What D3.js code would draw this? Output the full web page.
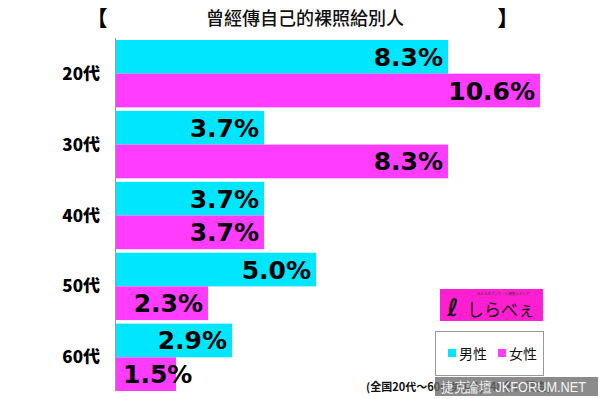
<!DOCTYPE html>
<html><head><meta charset="utf-8">
<script src="https://cdn.jsdelivr.net/npm/d3@7"></script>
<style>body{margin:0;background:#fff;}svg{display:block;}</style>
</head><body>
<svg id="c" width="600" height="399"></svg>
<script>
const title = "曾經傳自己的裸照給別人";
const categories = ["20代","30代","40代","50代","60代"];
const series = ["男性","女性"];
const maleValues = [8.3, 3.7, 3.7, 5.0, 2.9];
const femaleValues = [10.6, 8.3, 3.7, 2.3, 1.5];
const footnote = "(全国20代～60代男女1,348名に調査)";
const colors = ["#00e6ff", "#ff3cff"];

const svg = d3.select("#c");
const left = 116;
const x = d3.scaleLinear().domain([0, 10.6]).range([left, 540]);
const y = d3.scaleBand().domain(categories).range([40, 391]).paddingInner(0.05).paddingOuter(0);
const ys = d3.scaleBand().domain(series).range([0, y.bandwidth()]).padding(0);
const color = d3.scaleOrdinal().domain(series).range(colors);

// title
svg.append("text").attr("x", 97).attr("y", 26).attr("text-anchor","middle")
  .attr("font-family","Noto Sans CJK TC").attr("font-weight","900").attr("font-size",21).text("【");
svg.append("text").attr("x", 508).attr("y", 26).attr("text-anchor","middle")
  .attr("font-family","Noto Sans CJK TC").attr("font-weight","900").attr("font-size",21).text("】");
svg.append("text").attr("x", 305).attr("y", 25).attr("text-anchor","middle")
  .attr("font-family","Noto Sans CJK TC").attr("font-weight","500").attr("font-size",18).attr("fill","#111").text(title);

const data = [];
categories.forEach((c,i)=>{
  data.push({cat:c, s:series[0], v:maleValues[i]});
  data.push({cat:c, s:series[1], v:femaleValues[i]});
});

const g = svg.append("g");
g.selectAll("rect.bar").data(data).join("rect").attr("class","bar")
  .attr("x", left).attr("y", d=>y(d.cat)+ys(d.s))
  .attr("width", d=>x(d.v)-left).attr("height", ys.bandwidth())
  .attr("fill", d=>color(d.s));

// axis line
svg.append("line").attr("x1",115.5).attr("x2",115.5).attr("y1",38).attr("y2",391)
  .attr("stroke","#999").attr("stroke-width",1);

// value labels
const labels = g.selectAll("text.val").data(data).join("text").attr("class","val")
  .attr("font-family","DejaVu Sans").attr("font-weight","bold").attr("font-size",25)
  .attr("fill","#000")
  .attr("y", d=>y(d.cat)+ys(d.s)+ys.bandwidth()/2+9)
  .text(d=>d.v.toFixed(1)+"%");
labels.each(function(d){
  const w = this.getComputedTextLength();
  const right = Math.max(x(d.v)-5, left+7+w);
  d3.select(this).attr("x", right).attr("text-anchor","end");
});

// category labels
svg.selectAll("text.cat").data(categories).join("text").attr("class","cat")
  .attr("x", 100).attr("y", d=>y(d)+y.bandwidth()/2+6).attr("text-anchor","end")
  .attr("font-family","Noto Sans CJK JP").attr("font-weight","900").attr("font-size",17)
  .attr("fill","#000").text(d=>d);

// logo
const lg = svg.append("g");
lg.append("rect").attr("x",440).attr("y",289).attr("width",103).attr("height",32).attr("fill","#ff1fd0");
lg.append("text").attr("x",453).attr("y",316).attr("text-anchor","middle")
  .attr("font-family","DejaVu Sans").attr("font-weight","bold").attr("font-size",24).attr("fill","#111").text("ℓ");
lg.append("text").attr("x",467).attr("y",316)
  .attr("font-family","Noto Sans CJK JP").attr("font-size",17).attr("fill","#111").text("しらべぇ");
lg.append("text").attr("x",503).attr("y",295).attr("text-anchor","middle")
  .attr("font-family","Noto Sans CJK JP").attr("font-size",3.5).attr("fill","#333").text("みんなのアンケート調査メディア");

// legend
svg.append("rect").attr("x",435.5).attr("y",331.5).attr("width",108).attr("height",44)
  .attr("fill","#fff").attr("stroke","#999");
const leg = svg.selectAll("g.leg").data(series).join("g").attr("class","leg")
  .attr("transform",(d,i)=>`translate(${448+i*50},353)`);
leg.append("rect").attr("x",0).attr("y",-4).attr("width",8).attr("height",8).attr("fill",d=>color(d));
leg.append("text").attr("x",11).attr("y",6).attr("font-family","Noto Sans CJK JP")
  .attr("font-size",14).attr("fill","#111").text(d=>d);

// footnote
svg.append("text").attr("x",366).attr("y",391).attr("font-family","Noto Sans CJK JP")
  .attr("font-size",11).attr("font-weight","bold").attr("fill","#111").text(footnote);

// watermark
svg.append("rect").attr("x",435).attr("y",377).attr("width",163).attr("height",19).attr("fill","rgba(110,110,110,0.8)");
svg.append("text").attr("x",441).attr("y",392).attr("font-family","Liberation Sans")
  .attr("font-size",14).attr("textLength",145).attr("lengthAdjust","spacingAndGlyphs")
  .attr("fill","#f4f4f4").text("捷克論壇 JKFORUM.NET");
</script>
</body></html>
